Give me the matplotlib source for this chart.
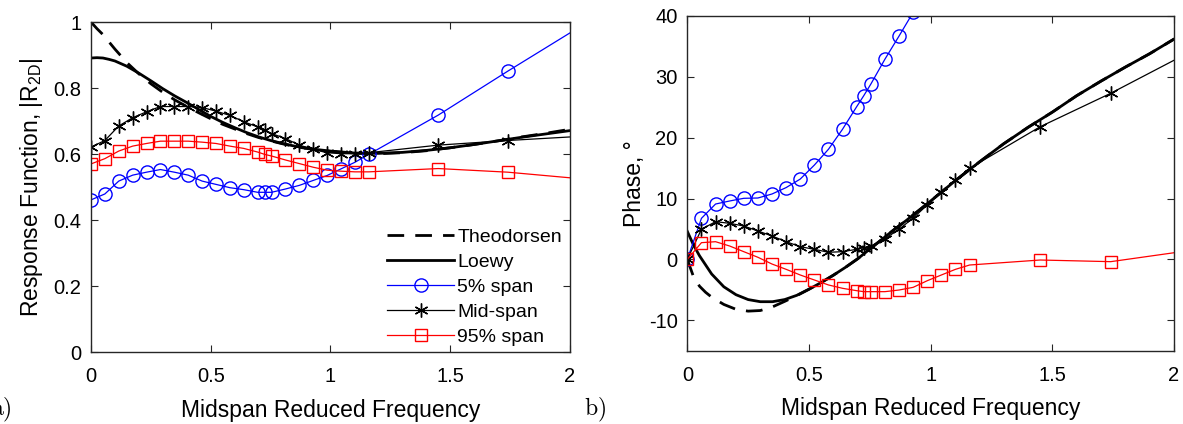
import numpy as np
import matplotlib
matplotlib.use('Agg')
from matplotlib import pyplot as plt

plt.rcParams['font.family'] = ['Liberation Sans', 'DejaVu Sans']
plt.rcParams['mathtext.fontset'] = 'custom'
plt.rcParams['mathtext.rm'] = 'Liberation Sans'
plt.rcParams['mathtext.it'] = 'Liberation Sans:italic'
plt.rcParams['axes.unicode_minus'] = False

# measured frequencies (midspan reduced frequency)
freq = [0, 0.058, 0.116, 0.174, 0.232, 0.29, 0.348, 0.406, 0.464, 0.522, 0.58,
        0.638, 0.696, 0.725, 0.754, 0.812, 0.87, 0.928, 0.986, 1.044, 1.102,
        1.16, 1.45, 1.74, 2.32]

# magnitude |R2D|
mag_5 = [0.461, 0.479, 0.518, 0.536, 0.545, 0.553, 0.545, 0.536, 0.518, 0.508,
         0.498, 0.492, 0.484, 0.484, 0.484, 0.494, 0.505, 0.52, 0.535, 0.555,
         0.575, 0.599, 0.718, 0.851, 1.11]
mag_mid = [0.621, 0.641, 0.685, 0.71, 0.728, 0.744, 0.744, 0.744, 0.741, 0.730,
           0.717, 0.698, 0.682, 0.672, 0.662, 0.647, 0.627, 0.614, 0.604, 0.601,
           0.601, 0.604, 0.627, 0.641, 0.665]
mag_95 = [0.570, 0.586, 0.609, 0.624, 0.632, 0.639, 0.639, 0.639, 0.636, 0.632,
          0.624, 0.617, 0.606, 0.599, 0.594, 0.582, 0.571, 0.560, 0.551, 0.548,
          0.546, 0.546, 0.556, 0.545, 0.507]

# phase (deg)
ph_5 = [0, 6.75, 9.1, 9.6, 10.04, 10.09, 10.75, 11.8, 13.2, 15.5, 18.1, 21.4,
        25.1, 26.9, 28.8, 32.9, 36.7, 40.6, 44.5]
ph_mid = [0, 4.95, 6.2, 5.93, 5.49, 4.67, 3.85, 2.91, 2.09, 1.66, 1.17, 1.27,
          1.66, 1.92, 2.2, 3.4, 4.95, 6.8, 8.94, 11.0, 13.05, 14.97, 21.8, 27.3,
          39.4]
ph_95 = [0, 2.75, 2.91, 2.2, 1.27, 0.35, -0.76, -1.63, -2.56, -3.38, -4.2,
         -4.75, -5.14, -5.3, -5.3, -5.3, -5.03, -4.59, -3.5, -2.56, -1.63,
         -0.92, -0.1, -0.37, 2.9]

# theory curves
k_th = [0, 0.025, 0.05, 0.075, 0.1, 0.15, 0.2, 0.25, 0.3, 0.35, 0.4, 0.45, 0.5,
        0.55, 0.6, 0.65, 0.7, 0.75, 0.8, 0.85, 0.9, 0.95, 1.0, 1.1, 1.2, 1.3,
        1.4, 1.5, 1.6, 1.7, 1.8, 1.9, 2.0]
theo_mag = [1.0, 0.98, 0.962, 0.94, 0.918, 0.877, 0.843, 0.813, 0.787, 0.764,
            0.744, 0.725, 0.707, 0.69, 0.676, 0.662, 0.65, 0.64, 0.631, 0.623,
            0.617, 0.612, 0.608, 0.602, 0.601, 0.604, 0.610, 0.619, 0.629,
            0.640, 0.652, 0.663, 0.675]
loewy_mag = [0.891, 0.892, 0.891, 0.887, 0.882, 0.866, 0.845, 0.822, 0.798,
             0.776, 0.756, 0.735, 0.714, 0.696, 0.680, 0.665, 0.652, 0.641,
             0.632, 0.624, 0.618, 0.613, 0.609, 0.603, 0.602, 0.605, 0.611,
             0.619, 0.629, 0.640, 0.651, 0.661, 0.671]
theo_ph = [0, -2.8, -4.4, -5.4, -6.2, -7.4, -8.2, -8.5, -8.4, -7.8, -6.9, -5.95,
           -4.9, -3.8, -2.6, -1.3, 0.1, 1.7, 3.3, 4.9, 6.4, 8.0, 9.6, 12.9,
           16.0, 19.0, 21.7, 24.2, 26.9, 29.3, 31.6, 33.8, 36.2]
loewy_ph = [4.6, 2.4, 0.6, -0.9, -2.4, -4.5, -5.8, -6.6, -6.95, -6.95, -6.6,
            -5.9, -4.9, -3.8, -2.6, -1.3, 0.1, 1.7, 3.3, 4.9, 6.4, 8.0, 9.6,
            12.9, 16.0, 19.0, 21.7, 24.2, 26.9, 29.3, 31.6, 33.8, 36.2]

asterisk = (6, 2, 0)

fig = plt.figure(figsize=(11.83, 4.24), dpi=100)
ax1 = fig.add_axes([0.0769, 0.1698, 0.4049, 0.7782])
ax2 = fig.add_axes([0.581, 0.1729, 0.4114, 0.7894])


def draw(ax, th, lw_, y5, ymid, y95):
    ax.plot(k_th, th, color='k', lw=2, dashes=(6, 4), label='Theodorsen')
    ax.plot(k_th, lw_, color='k', lw=2, label='Loewy')
    ax.plot(freq[:len(y5)], y5, color='b', lw=0.9, marker='o', ms=9.5,
            mfc='none', mew=1, label='5% span')
    ax.plot(freq[:len(ymid)], ymid, color='k', lw=0.9, marker=asterisk, ms=10,
            mew=1, label='Mid-span')
    ax.plot(freq[:len(y95)], y95, color='r', lw=0.9, marker='s', ms=8,
            mfc='none', mew=1, label='95% span')
    ax.set_xlim(0, 2)
    ax.set_xticks([0, 0.5, 1, 1.5, 2])
    ax.set_xticklabels(['0', '0.5', '1', '1.5', '2'])
    ax.tick_params(direction='in', top=True, right=True, labelsize=14.5,
                   length=5, width=0.8, color='#262626')
    ax.tick_params(axis='x', pad=11)
    ax.tick_params(axis='y', pad=7)
    for s in ax.spines.values():
        s.set_color('#262626')
        s.set_linewidth(1.0)
    ax.set_xlabel('Midspan Reduced Frequency', fontsize=16.5, labelpad=9)


draw(ax1, theo_mag, loewy_mag, mag_5, mag_mid, mag_95)
ax1.set_ylim(0, 1)
ax1.set_yticks([0, 0.2, 0.4, 0.6, 0.8, 1])
ax1.set_yticklabels(['0', '0.2', '0.4', '0.6', '0.8', '1'])
ax1.set_ylabel(r'Response Function, |R$_{\rm 2D}$|', fontsize=16.5, labelpad=6)
ax1.legend(loc='lower right', bbox_to_anchor=(1.012, -0.022), frameon=False,
           fontsize=14, handlelength=3.4, handletextpad=0.2,
           labelspacing=0.38, borderaxespad=0.3)

draw(ax2, theo_ph, loewy_ph, ph_5, ph_mid, ph_95)
ax2.set_ylim(-15, 40)
ax2.set_yticks([-10, 0, 10, 20, 30, 40])
ax2.set_ylabel('Phase, °', fontsize=16.5, labelpad=2)

fig.text(-0.008, 0.02, r'$\mathrm{a)}$', fontsize=17, math_fontfamily='cm')
fig.text(0.494, 0.02, r'$\mathrm{b)}$', fontsize=17, math_fontfamily='cm')

fig.savefig('out.png', dpi=100)
